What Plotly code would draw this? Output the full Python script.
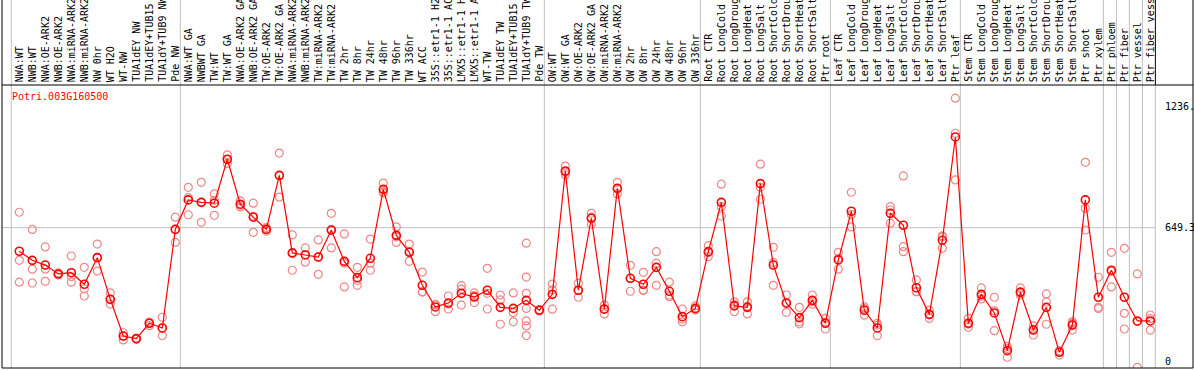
import plotly.graph_objects as go

categories = [
    "NWA:WT", "NWB:WT", "NWA:OE-ARK2", "NWB:OE-ARK2", "NWA:miRNA-ARK2", "NWB:miRNA-ARK2",
    "NW 0hr", "WT H2O", "WT-NW", "TUA1dEY NW", "TUA1dEY+TUB15 NW", "TUA1dY+TUB9 NW", "Pde NW",
    "NWA:WT GA", "NWBWT GA", "TW:WT", "TW:WT GA", "NWA:OE-ARK2 GA", "NWB:OE-ARK2 GA",
    "TW:OE-ARK2", "TW:OE-ARK2 GA", "NWA:miRNA-ARK2 GA", "NWB:miRNA-ARK2 GA", "TW:miRNA-ARK2",
    "TW:miRNA-ARK2 GA", "TW 2hr", "TW 8hr", "TW 24hr", "TW 48hr", "TW 96hr", "TW 336hr",
    "WT ACC", "35S::etr1-1 H2O", "35S::etr1-1 ACC", "LMX5::etr1-1 H2O", "LMX5::etr1-1 ACC",
    "WT-TW", "TUA1dEY TW", "TUA1dEY+TUB15 TW", "TUA1dY+TUB9 TW", "Pde TW",
    "OW:WT", "OW:WT GA", "OW:OE-ARK2", "OW:OE-ARK2 GA", "OW:miRNA-ARK2", "OW:miRNA-ARK2 GA",
    "OW 2hr", "OW 8hr", "OW 24hr", "OW 48hr", "OW 96hr", "OW 336hr",
    "Root CTR", "Root LongCold", "Root LongDrought", "Root LongHeat", "Root LongSalt",
    "Root ShortCold", "Root ShortDrought", "Root ShortHeat", "Root ShortSalt", "Ptr root",
    "Leaf CTR", "Leaf LongCold", "Leaf LongDrought", "Leaf LongHeat", "Leaf LongSalt",
    "Leaf ShortCold", "Leaf ShortDrought", "Leaf ShortHeat", "Leaf ShortSalt", "Ptr leaf",
    "Stem CTR", "Stem LongCold", "Stem LongDrought", "Stem LongHeat", "Stem LongSalt",
    "Stem ShortCold", "Stem ShortDrought", "Stem ShortHeat", "Stem ShortSalt", "Ptr shoot",
    "Ptr xylem", "Ptr phloem", "Ptr fiber", "Ptr vessel", "Ptr fiber vessel",
]

means = [
    535, 491, 468, 425, 431, 375, 504, 302, 124, 111, 186, 163, 641,
    784, 772, 768, 981, 763, 700, 641, 903, 527, 517, 507, 637, 486, 407, 501, 835, 612, 530,
    370, 265, 284, 331, 313, 346, 263, 258, 297, 249,
    326, 924, 346, 695, 254, 840, 404, 375, 457, 341, 218, 258,
    533, 772, 270, 263, 863, 468, 283, 213, 297, 186,
    493, 729, 249, 163, 719, 661, 358, 229, 588, 1089,
    186, 326, 236, 53, 337, 153, 263, 45, 177, 784, 312,
    443, 312, 197, 197,
]

replicates = [
    [724, 491, 385], [641, 448, 381], [556, 448, 389], [430, 423, 420], [512, 412, 385],
    [457, 352, 318], [570, 505, 439], [333, 279, 302], [140, 105, 124], [111, 108, 114],
    [191, 174, 186], [215, 163, 126], [700, 578, 641],
    [845, 712, 795], [869, 675, 772], [813, 709, 782], [1002, 961, 980], [779, 759, 750],
    [768, 627, 705], [650, 632, 641], [1011, 797, 901], [614, 443, 524], [551, 482, 518],
    [590, 423, 508], [719, 551, 641], [619, 362, 477], [457, 370, 394], [594, 443, 477],
    [865, 822, 818], [653, 578, 605], [570, 486, 534], [434, 337, 339], [278, 242, 275],
    [318, 255, 279], [368, 274, 351], [333, 286, 320], [452, 255, 331], [323, 299, 181],
    [333, 237, 193], [574, 410, 331, 258, 197, 173, 126], [249, 246, 252],
    [376, 254, 348], [948, 906, 918], [380, 312, 346], [719, 666, 700], [274, 231, 257],
    [869, 813, 838], [467, 341, 404], [433, 347, 345], [533, 477, 370], [385, 315, 323],
    [255, 193, 206], [270, 250, 254],
    [562, 509, 528], [860, 751, 706], [290, 242, 278], [290, 231, 268], [957, 787, 845],
    [554, 480, 370], [323, 239, 287], [263, 193, 183], [323, 278, 290], [210, 158, 190],
    [530, 448, 501], [821, 653, 713], [265, 225, 257], [186, 126, 177], [751, 671, 735],
    [900, 557, 533], [396, 339, 339], [250, 210, 227], [610, 549, 605], [1277, 1107, 881],
    [210, 166, 182], [357, 304, 317], [312, 150, 246], [64, 21, 74], [357, 323, 331],
    [173, 129, 157], [328, 289, 181], [51, 32, 52], [193, 153, 185], [966, 743, 638],
    [409, 263, 257], [530, 362, 437], [549, 234, 158], [425, -28, 194], [226, 208, 153],
]

# index (0-based) of the last category in each group
group_last = [12, 40, 52, 62, 72, 83, 84, 85, 86, 87]

ytick_vals = [0, 649.3, 1236.6]
ytick_text = ["0", "649.3", "1236."]
title_text = "Potri.003G160500"

W, H = 1194, 370
ML, MR, MT, MB = 2, 1, 85, 2
plot_h = H - MT - MB
top_paper = 1 + MT / plot_h

n = len(categories)
idx = list(range(n))
x_range = [-1.33, 90.28]
y_range = [-31, 1341]

rep_x = [i for i, reps in enumerate(replicates) for _ in reps]
rep_y = [v for reps in replicates for v in reps]

MONO = "DejaVu Sans Mono"
GRID = "#c0c0c0"
REP = "rgb(238,135,135)"

fig = go.Figure()
fig.add_trace(go.Scatter(
    x=rep_x, y=rep_y, mode="markers", hoverinfo="skip",
    marker=dict(symbol="circle-open", size=8, color=REP, line=dict(width=1.2, color=REP)),
))
fig.add_trace(go.Scatter(
    x=idx, y=means, mode="lines+markers",
    line=dict(color="#ff0000", width=1.2),
    marker=dict(symbol="circle-open", size=8, color="#ff0000",
                line=dict(width=1.6, color="#ff0000")),
))

shapes = []
bounds = [-1 + 0.385] + [g + 0.385 for g in group_last]
for k, b in enumerate(bounds):
    last = (k == len(bounds) - 1)
    shapes.append(dict(type="line", xref="x", yref="paper", x0=b, x1=b, y0=0,
                       y1=1 if last else top_paper, layer="below",
                       line=dict(color=GRID, width=1)))
    if last:
        shapes.append(dict(type="line", xref="x", yref="paper", x0=b, x1=b, y0=1,
                           y1=top_paper, line=dict(color="black", width=1)))
# horizontal grid at middle tick
shapes.append(dict(type="line", xref="x", yref="y", x0=x_range[0], x1=bounds[-1],
                   y0=ytick_vals[1], y1=ytick_vals[1], layer="below",
                   line=dict(color=GRID, width=1)))
# frame
for (x0, x1, y0, y1) in [(0, 0, 0, top_paper), (1, 1, 0, top_paper), (0, 1, 0, 0), (0, 1, 1, 1)]:
    shapes.append(dict(type="line", xref="paper", yref="paper", x0=x0, x1=x1, y0=y0, y1=y1,
                       line=dict(color="black", width=1)))

annotations = [dict(xref="paper", yref="paper", x=8 / (W - ML - MR), y=1 - 12 / plot_h,
                    xanchor="left", yanchor="middle", text=title_text, showarrow=False,
                    font=dict(family=MONO, size=10, color="#ff0000"))]
for v, t in zip(ytick_vals, ytick_text):
    annotations.append(dict(xref="x", yref="y", x=n, y=v, xanchor="left", yanchor="middle",
                            text=t, showarrow=False, font=dict(family=MONO, size=10, color="black")))
# rotated category labels above the plot
for i, lab in zip(idx, categories):
    annotations.append(dict(xref="x", yref="paper", x=i, y=1, xanchor="center", yanchor="bottom",
                            yshift=1, textangle=-90, text=lab, showarrow=False,
                            font=dict(family=MONO, size=10, color="black")))

fig.update_layout(
    width=W, height=H, margin=dict(l=ML, r=MR, t=MT, b=MB, autoexpand=False),
    paper_bgcolor="white", plot_bgcolor="white", showlegend=False,
    shapes=shapes, annotations=annotations,
    xaxis=dict(range=x_range, showticklabels=False,
               showgrid=False, zeroline=False, showline=False, ticks="", automargin=False,
               fixedrange=True),
    yaxis=dict(range=y_range, showgrid=False, zeroline=False, showticklabels=False,
               ticks="", showline=False, automargin=False, fixedrange=True),
)

fig.write_html("out.html", config={"displayModeBar": False},
               post_script="document.body.style.margin='0';document.body.style.overflow='hidden';")
